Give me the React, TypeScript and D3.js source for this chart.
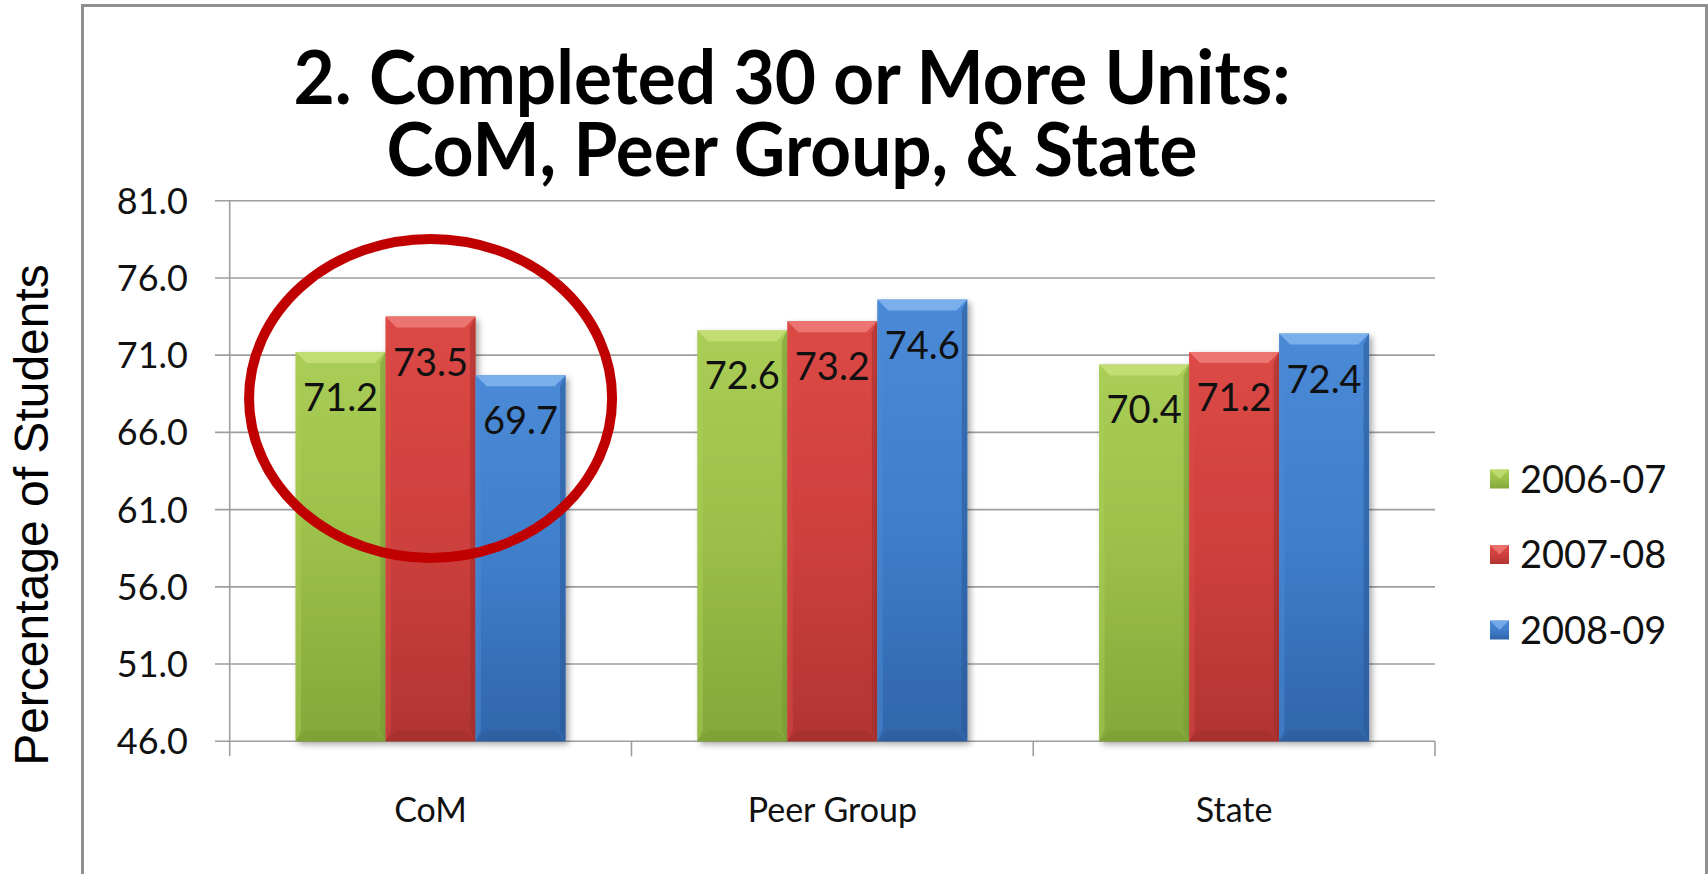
import React from "react";
import * as d3 from "d3";

const categories = ["CoM", "Peer Group", "State"];
const seriesNames = ["2006-07", "2007-08", "2008-09"];
const values2006 = [71.2, 72.6, 70.4];
const values2007 = [73.5, 73.2, 71.2];
const values2008 = [69.7, 74.6, 72.4];
const yTicks = [46.0, 51.0, 56.0, 61.0, 66.0, 71.0, 76.0, 81.0];
const titleLines = ["2. Completed 30 or More Units:", "CoM, Peer Group, & State"];
const yTitle = "Percentage of Students";
const highlightCategory = "CoM";
const highlightLevel = 68.2;

const palette = [
  { id: "g", top: "#c3df77", light: "#a9cd55", mid: "#9bbf48", dark: "#84a83a", edge: "#7a9c34" },
  { id: "r", top: "#ee7a76", light: "#dc4946", mid: "#cf403d", dark: "#b03532", edge: "#9e2d2b" },
  { id: "b", top: "#7fb2ee", light: "#4a8ad6", mid: "#3f7ecb", dark: "#3165aa", edge: "#2a5896" },
];

export default function App() {
  const W = 1708;
  const H = 874;
  const left = 229.7, right = 1435, top = 200.7, bottom = 741.3;
  const x = d3.scaleBand<string>().domain(categories).range([left, right]).paddingInner(0).paddingOuter(0);
  const bw = x.bandwidth();
  const xs = d3.scaleBand<string>().domain(seriesNames).range([65.9, bw - 65.9]);
  const y = d3.scaleLinear().domain([46, 81]).range([bottom, top]);
  const series = [values2006, values2007, values2008];
  const font = "Lato, 'Open Sans', sans-serif";
  const grid = "#9e9e9e";
  const bev = 11;

  const cx = (x(highlightCategory) as number) + bw / 2;
  const cy = y(highlightLevel);

  const titleWidths = [997, 811];
  const titleBase = [104, 176];

  return (
    <svg width={W} height={H} style={{ position: "absolute", left: 0, top: 0, background: "#fff" }}>
      <defs>
        {palette.map((p) => (
          <linearGradient key={p.id} id={"v" + p.id} x1="0" y1="0" x2="0" y2="1">
            <stop offset="0" stopColor={p.light} />
            <stop offset="0.5" stopColor={p.mid} />
            <stop offset="1" stopColor={p.dark} />
          </linearGradient>
        ))}
        <filter id="shadow" x="-20%" y="-20%" width="140%" height="140%">
          <feDropShadow dx="3" dy="3" stdDeviation="3" floodColor="#000" floodOpacity="0.35" />
        </filter>
      </defs>
      <rect x={0} y={0} width={W} height={H} fill="#fff" />
      {/* chart border */}
      <path d={`M82.5,${H + 5} V5.5 H1706.5 V${H + 5}`} fill="none" stroke="#8f8f8f" strokeWidth={3} />

      {/* title */}
      <text textAnchor="middle" fontFamily={font} fontWeight={700} fontSize={74} fill="#000">
        {titleLines.map((t, i) => (
          <tspan key={i} x={792} y={titleBase[i]} textLength={titleWidths[i]} lengthAdjust="spacingAndGlyphs">
            {t}
          </tspan>
        ))}
      </text>

      {/* gridlines and y ticks */}
      {yTicks.map((v) => (
        <g key={v}>
          <line x1={215} x2={right} y1={y(v)} y2={y(v)} stroke={grid} strokeWidth={1.6} />
          <text x={188} y={y(v)} dy="0.36em" textAnchor="end" fontFamily={font} fontSize={36} fill="#111">
            {v.toFixed(1)}
          </text>
        </g>
      ))}
      {/* axes */}
      <line x1={left} x2={left} y1={top} y2={bottom + 15} stroke={grid} strokeWidth={1.6} />
      {categories.map((c) => (
        <line key={c} x1={(x(c) as number) + bw} x2={(x(c) as number) + bw} y1={bottom} y2={bottom + 15} stroke={grid} strokeWidth={1.6} />
      ))}

      {/* bars */}
      {categories.map((c, ci) => (
        <g key={c}>
          {series.map((vals, si) => {
            const p = palette[si];
            const bx = (x(c) as number) + (xs(seriesNames[si]) as number);
            const w = xs.bandwidth();
            const by = y(vals[ci]);
            const h = bottom - by;
            return (
              <g key={si}>
                <rect x={bx} y={by} width={w} height={h} fill={`url(#v${p.id})`} filter="url(#shadow)" />
                <polygon points={`${bx},${by} ${bx + w},${by} ${bx + w - bev},${by + bev} ${bx + bev},${by + bev}`} fill={p.top} opacity={0.9} />
                <polygon points={`${bx},${by} ${bx + bev * 0.5},${by + bev} ${bx + bev * 0.5},${bottom - bev} ${bx},${bottom}`} fill={p.light} opacity={0.5} />
                <polygon points={`${bx + w},${by} ${bx + w - bev * 0.5},${by + bev} ${bx + w - bev * 0.5},${bottom - bev} ${bx + w},${bottom}`} fill={p.edge} opacity={0.55} />
                <polygon points={`${bx},${bottom} ${bx + bev},${bottom - bev} ${bx + w - bev},${bottom - bev} ${bx + w},${bottom}`} fill={p.edge} opacity={0.45} />
                <text x={bx + w / 2} y={by + 59} textAnchor="middle" fontFamily={font} fontSize={38} fill="#111">
                  {vals[ci].toFixed(1)}
                </text>
              </g>
            );
          })}
        </g>
      ))}

      {/* category labels */}
      {categories.map((c) => (
        <text key={c} x={(x(c) as number) + bw / 2} y={822} textAnchor="middle" fontFamily={font} fontSize={34} fill="#111">
          {c}
        </text>
      ))}

      {/* y axis title */}
      <text transform={`translate(48,515) rotate(-90)`} textAnchor="middle" fontFamily="'Liberation Sans', Arial, sans-serif" fontSize={48} fill="#000">
        {yTitle}
      </text>

      {/* legend */}
      {seriesNames.map((s, i) => {
        const p = palette[i];
        const ly = 479 + i * 75.5;
        return (
          <g key={s}>
            <rect x={1490} y={ly - 9.5} width={19} height={19} fill={`url(#v${p.id})`} />
            <polygon points={`${1490},${ly - 9.5} ${1509},${ly - 9.5} ${1499.5},${ly}`} fill={p.top} opacity={0.8} />
            <text x={1520} y={ly} dy="0.36em" fontFamily={font} fontSize={38} fill="#111">
              {s}
            </text>
          </g>
        );
      })}

      {/* highlight ellipse */}
      <ellipse cx={cx} cy={cy} rx={181.5} ry={159.5} fill="none" stroke="#c00000" strokeWidth={10} />
    </svg>
  );
}
